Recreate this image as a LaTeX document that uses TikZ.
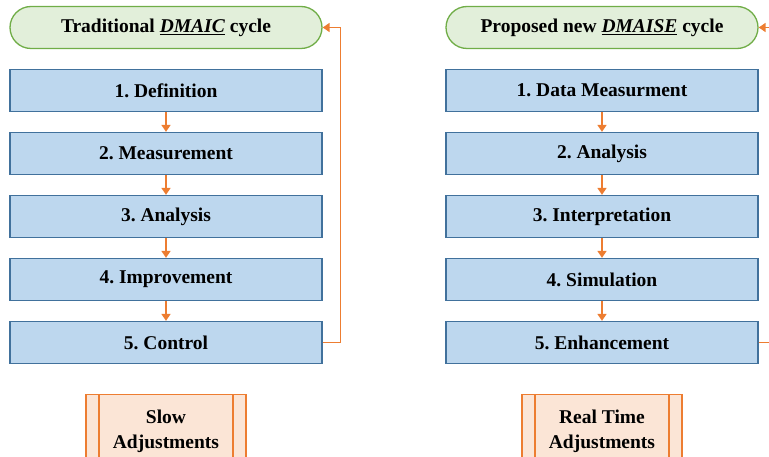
\documentclass[tikz,border=0pt]{standalone}
\usepackage{fontspec}
\setmainfont{Liberation Serif}
\frenchspacing
\usepackage{xcolor}
\usetikzlibrary{positioning, arrows.meta}
\definecolor{stepblue}{HTML}{BDD7EE}
\definecolor{stepedge}{HTML}{41719C}
\definecolor{pillgreen}{HTML}{E2EFDA}
\definecolor{pilledge}{HTML}{70AD47}
\definecolor{notefill}{HTML}{FBE5D6}
\definecolor{flow}{HTML}{ED7D31}
\tikzstyle{stage} = [rectangle, minimum width=312pt, minimum height=42pt, draw=stepedge, fill=stepblue, line width=1.3pt, font=\fontsize{19.5}{22}\selectfont\bfseries, align=center]
\tikzstyle{cycletitle} = [stage, rounded corners=21pt, draw=pilledge, fill=pillgreen]
\tikzstyle{note} = [rectangle, minimum width=160pt, minimum height=74pt, draw=flow, fill=notefill, line width=1.3pt, font=\fontsize{19.5}{25}\selectfont\bfseries, align=center, path picture={\draw[flow, line width=1.1pt] ([xshift=13pt]path picture bounding box.north west) -- ([xshift=13pt]path picture bounding box.south west) ([xshift=-13pt]path picture bounding box.north east) -- ([xshift=-13pt]path picture bounding box.south east);}]
\tikzstyle{arrow} = [line width=1.6pt, draw=flow, -{Triangle[length=7pt, width=9pt]}]

\begin{document}
\begin{tikzpicture}[x=1pt, y=-1pt, node distance=63pt]
    \useasboundingbox (0,0) rectangle (769,457);
    % traditional cycle
    \node(trad)[cycletitle] at (166,27.5){Traditional \underline{\textit{DMAIC}} cycle};
    \node(def)[stage, below of=trad]{1. Definition};
    \node(meas)[stage, below of=def]{2. Measurement};
    \node(ana)[stage, below of=meas]{3. Analysis};
    \node(imp)[stage, below of=ana]{4. Improvement};
    \node(ctl)[stage, below of=imp]{5. Control};
    \node(slow)[note, node distance=89pt, below of=ctl]{Slow\\Adjustments};

    % proposed cycle
    \node(prop)[cycletitle] at (602,27.5){Proposed new \underline{\textit{DMAISE}} cycle};
    \node(data)[stage, below of=prop]{1. Data Measurment};
    \node(anb)[stage, below of=data]{2. Analysis};
    \node(intp)[stage, below of=anb]{3. Interpretation};
    \node(sim)[stage, below of=intp]{4. Simulation};
    \node(enh)[stage, below of=sim]{5. Enhancement};
    \node(real)[note, node distance=89pt, below of=enh]{Real Time\\Adjustments};

    \draw[arrow](def)--(meas);
    \draw[arrow](meas)--(ana);
    \draw[arrow](ana)--(imp);
    \draw[arrow](imp)--(ctl);
    \draw[arrow](ctl.east)--++(18,0)|-(trad.east);

    \draw[arrow](data)--(anb);
    \draw[arrow](anb)--(intp);
    \draw[arrow](intp)--(sim);
    \draw[arrow](sim)--(enh);
    \draw[arrow](enh.east)--++(28,0)|-(prop.east);
\end{tikzpicture}
\end{document}
